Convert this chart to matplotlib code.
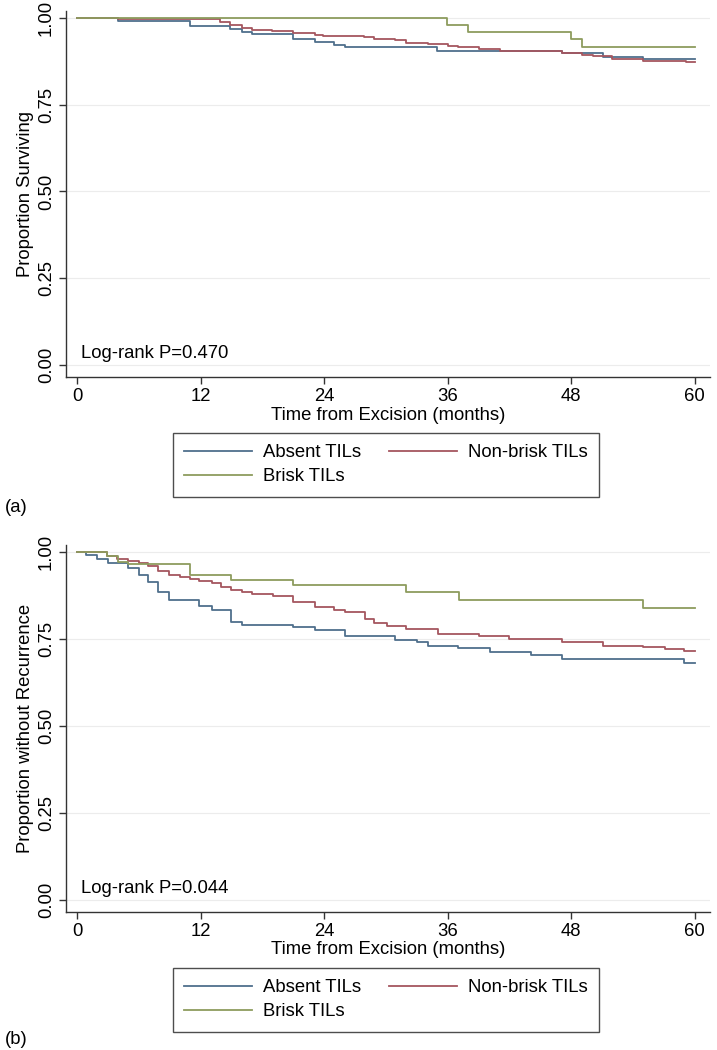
import matplotlib
matplotlib.use("Agg")
import matplotlib.pyplot as plt
from matplotlib import font_manager

# Kaplan-Meier step data (months, proportion)
group_labels = ["Absent TILs", "Non-brisk TILs", "Brisk TILs"]

# (a) overall survival
os_absent_t = [0, 4.0, 11.0, 14.9, 16.0, 17.0, 21.0, 23.1, 25.0, 26.0, 35.0, 47.1, 51.1, 55.0, 60]
os_absent_s = [1.0, 0.991, 0.978, 0.968, 0.959, 0.954, 0.939, 0.930, 0.922, 0.915, 0.905, 0.899,
               0.887, 0.882, 0.882]
os_nonbrisk_t = [0, 4.0, 13.9, 14.9, 16.0, 17.0, 18.9, 21.0, 23.1, 23.9, 27.9, 28.9, 30.9, 32.0,
                 34.1, 36.0, 37.0, 39.1, 41.1, 47.1, 49.1, 50.1, 52.0, 55.0, 59.2, 60]
os_nonbrisk_s = [1.0, 0.996, 0.989, 0.980, 0.972, 0.966, 0.961, 0.956, 0.951, 0.948, 0.946, 0.940,
                 0.935, 0.929, 0.924, 0.920, 0.915, 0.910, 0.906, 0.899, 0.894, 0.889, 0.882,
                 0.876, 0.872, 0.872]
os_brisk_t = [0, 35.9, 38.0, 48.0, 49.1, 60]
os_brisk_s = [1.0, 0.980, 0.959, 0.939, 0.915, 0.915]

# (b) recurrence-free survival
rfs_absent_t = [0, 0.9, 1.9, 3.0, 5.0, 6.0, 6.9, 7.9, 8.9, 11.9, 13.1, 15.0, 16.0, 21.0, 23.1,
                26.0, 30.9, 33.0, 34.1, 37.0, 40.1, 44.1, 47.1, 59.0, 60]
rfs_absent_s = [1.0, 0.991, 0.980, 0.968, 0.953, 0.934, 0.915, 0.885, 0.862, 0.845, 0.834, 0.800,
                0.791, 0.784, 0.777, 0.759, 0.748, 0.741, 0.731, 0.724, 0.713, 0.703, 0.693,
                0.681, 0.681]
rfs_nonbrisk_t = [0, 2.9, 3.9, 5.0, 6.0, 6.9, 7.9, 8.9, 10.0, 11.0, 11.9, 13.1, 14.0, 15.0, 16.0,
                  17.0, 19.0, 21.0, 23.1, 25.0, 26.0, 28.0, 28.9, 30.1, 32.0, 35.1, 39.1, 42.0,
                  47.1, 51.1, 55.0, 57.1, 59.0, 60]
rfs_nonbrisk_s = [1.0, 0.989, 0.980, 0.974, 0.968, 0.961, 0.944, 0.934, 0.927, 0.922, 0.917,
                  0.910, 0.900, 0.891, 0.885, 0.879, 0.872, 0.855, 0.843, 0.834, 0.827, 0.808,
                  0.796, 0.788, 0.778, 0.764, 0.757, 0.751, 0.741, 0.731, 0.727, 0.721, 0.716,
                  0.716]
rfs_brisk_t = [0, 2.9, 4.0, 5.0, 11.0, 15.0, 21.0, 32.0, 37.1, 55.0, 60]
rfs_brisk_s = [1.0, 0.987, 0.972, 0.965, 0.934, 0.920, 0.904, 0.885, 0.862, 0.840, 0.840]

x_ticks = [0, 12, 24, 36, 48, 60]
y_ticks = [0.0, 0.25, 0.5, 0.75, 1.0]

colors = ["#4f6f8c", "#a5565f", "#8d9c5e"]

installed = {f.name for f in font_manager.fontManager.ttflist}
if "Liberation Sans Narrow" in installed:
    plt.rcParams["font.family"] = ["Liberation Sans Narrow", "DejaVu Sans"]
    fs = 14.5
else:
    plt.rcParams["font.family"] = ["Liberation Sans", "DejaVu Sans"]
    fs = 13.3

W, H = 717, 1050
fig = plt.figure(figsize=(W / 100, H / 100), dpi=100)


def draw_panel(ax, series, ylabel, ptext, legend_top):
    for (t, s), c, lab in zip(series, colors, group_labels):
        ax.step(t, s, where="post", color=c, lw=1.3, label=lab)
    ax.set_xlim(-1.07, 61.5)
    ax.set_ylim(-0.035, 1.02)
    ax.set_xticks(x_ticks)
    ax.set_yticks(y_ticks)
    ax.set_yticklabels([f"{v:.2f}" for v in y_ticks], rotation=90, va="center")
    ax.grid(axis="y", color="#ececec", lw=0.8)
    ax.set_axisbelow(True)
    for side in ["top", "right"]:
        ax.spines[side].set_visible(False)
    for side in ["left", "bottom"]:
        ax.spines[side].set_color("#333333")
        ax.spines[side].set_linewidth(1.0)
    ax.tick_params(direction="out", length=5, width=1.0, color="#333333",
                   labelsize=fs, pad=3)
    ax.set_xlabel("Time from Excision (months)", fontsize=fs, labelpad=1)
    ax.set_ylabel(ylabel, fontsize=fs, labelpad=3)
    ax.text(0.4, 0.033, ptext, fontsize=fs, va="center", ha="left")

    h, l = ax.get_legend_handles_labels()
    order = [0, 2, 1]
    leg = ax.legend([h[i] for i in order], [l[i] for i in order], ncol=2,
                    loc="upper center", bbox_to_anchor=(386 / W, legend_top),
                    bbox_transform=fig.transFigure, frameon=True, fancybox=False,
                    fontsize=fs, handlelength=3.7, columnspacing=1.5,
                    handletextpad=0.6, borderpad=0.6, labelspacing=0.4,
                    borderaxespad=0)
    leg.get_frame().set_edgecolor("#222222")
    leg.get_frame().set_linewidth(1.0)


ax1 = fig.add_axes([66 / W, 1 - 377 / H, (710 - 66) / W, (377 - 11) / H])
draw_panel(ax1,
           [(os_absent_t, os_absent_s), (os_nonbrisk_t, os_nonbrisk_s), (os_brisk_t, os_brisk_s)],
           "Proportion Surviving", "Log-rank P=0.470", 1 - 433 / H)

ax2 = fig.add_axes([66 / W, 1 - 912 / H, (710 - 66) / W, (912 - 545) / H])
draw_panel(ax2,
           [(rfs_absent_t, rfs_absent_s), (rfs_nonbrisk_t, rfs_nonbrisk_s),
            (rfs_brisk_t, rfs_brisk_s)],
           "Proportion without Recurrence", "Log-rank P=0.044", 1 - 968 / H)

fig.text(5 / W, 1 - 508 / H, "(a)", fontsize=fs, va="center", ha="left")
fig.text(5 / W, 1 - 1040 / H, "(b)", fontsize=fs, va="center", ha="left")

fig.savefig("out.png", dpi=100)
